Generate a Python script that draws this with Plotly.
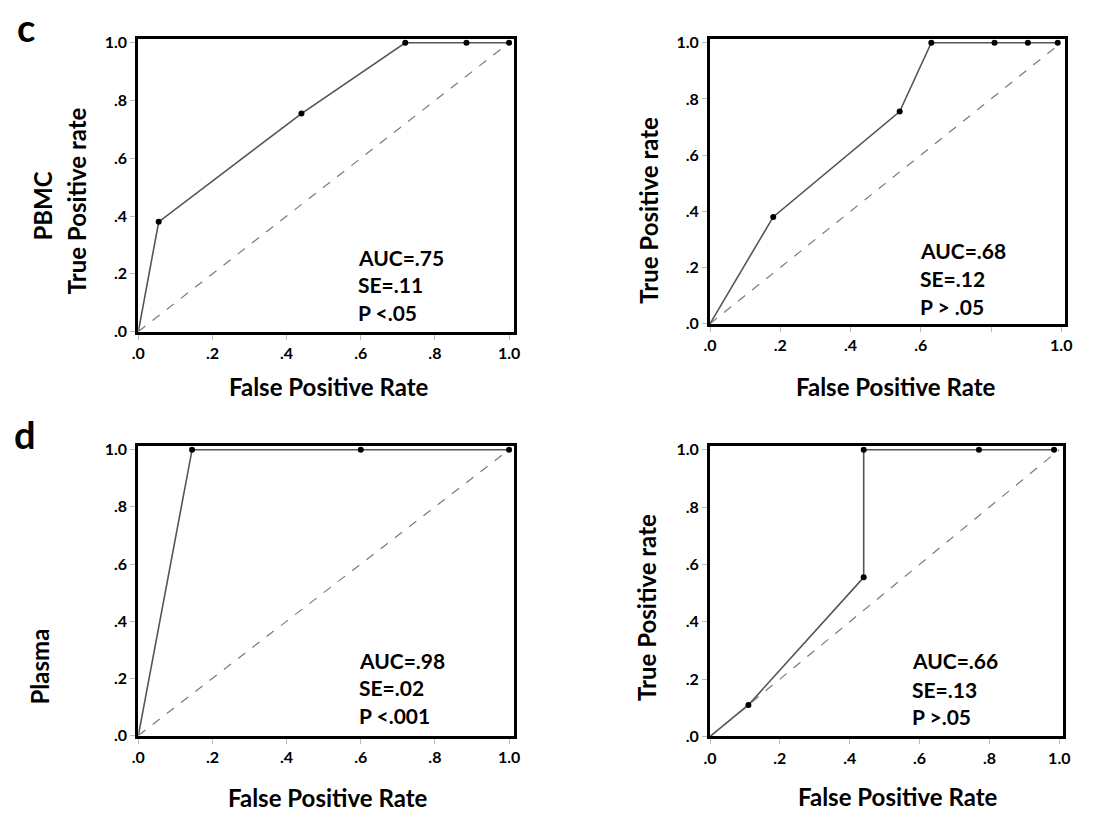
import plotly.graph_objects as go

W, H = 1109, 820

# ---------------- data ----------------
# Panel c-left (PBMC)
c1_fpr = [0.0, 0.055, 0.44, 0.72, 0.885, 1.0]
c1_tpr = [0.0, 0.38, 0.755, 1.0, 1.0, 1.0]
# Panel c-right (PBMC)
c2_fpr = [0.0, 0.18, 0.54, 0.63, 0.81, 0.905, 0.99]
c2_tpr = [0.0, 0.38, 0.755, 1.0, 1.0, 1.0, 1.0]
# Panel d-left (Plasma)
d1_fpr = [0.0, 0.145, 0.6, 1.0]
d1_tpr = [0.0, 1.0, 1.0, 1.0]
# Panel d-right (Plasma)
d2_fpr = [0.0, 0.11, 0.44, 0.44, 0.77, 0.985]
d2_tpr = [0.0, 0.11, 0.555, 1.0, 1.0, 1.0]

ref_line = [0.0, 1.0]

tick_vals = [0.0, 0.2, 0.4, 0.6, 0.8, 1.0]
tick_text = [".0", ".2", ".4", ".6", ".8", "1.0"]
tick_text_c2x = [".0", ".2", ".4", ".6", "", "1.0"]

stats = {
    1: ["AUC=.75", "SE=.11", "P <.05"],
    2: ["AUC=.68", "SE=.12", "P > .05"],
    3: ["AUC=.98", "SE=.02", "P <.001"],
    4: ["AUC=.66", "SE=.13", "P >.05"],
}

panels = [
    (1, c1_fpr, c1_tpr),
    (2, c2_fpr, c2_tpr),
    (3, d1_fpr, d1_tpr),
    (4, d2_fpr, d2_tpr),
]

# ---------------- layout geometry (pixels) ----------------
def px(x):
    return x / W

def py(y):
    return 1 - y / H

# (left, right, top, bottom) in pixels
boxes = {
    1: (133, 513, 33, 331),
    2: (712, 1072, 33, 323),
    3: (133, 513, 448, 743),
    4: (712, 1070, 448, 744),
}

FONT = "Lato"
fig = go.Figure()

for idx, fx, fy in panels:
    xa = "x" if idx == 1 else f"x{idx}"
    ya = "y" if idx == 1 else f"y{idx}"
    # diagonal reference
    fig.add_trace(go.Scatter(
        x=ref_line, y=ref_line, mode="lines", xaxis=xa, yaxis=ya,
        line=dict(color="#7a7a7a", width=1.2, dash="dash"),
        showlegend=False, hoverinfo="skip"))
    # ROC curve
    fig.add_trace(go.Scatter(
        x=fx, y=fy, mode="lines", xaxis=xa, yaxis=ya,
        line=dict(color="#555555", width=1.6),
        showlegend=False))
    fig.add_trace(go.Scatter(
        x=fx[1:], y=fy[1:], mode="markers", xaxis=xa, yaxis=ya,
        marker=dict(color="black", size=6),
        showlegend=False))

axis_common = dict(
    showline=True, mirror=True, linecolor="black", linewidth=3,
    showgrid=False, zeroline=False, ticks="outside", ticklen=5,
    tickcolor="#bbbbbb", tickwidth=1,
    tickfont=dict(family=FONT, size=16, color="black", weight="bold"),
    tickvals=tick_vals, fixedrange=True,
)

layout_axes = {}
for idx in range(1, 5):
    l, r, t, b = boxes[idx]
    xname = "xaxis" if idx == 1 else f"xaxis{idx}"
    yname = "yaxis" if idx == 1 else f"yaxis{idx}"
    xt = tick_text_c2x if idx == 2 else tick_text
    layout_axes[xname] = dict(axis_common, domain=[px(l), px(r)],
                              range=[0, 1.012], ticktext=xt,
                              anchor="y" if idx == 1 else f"y{idx}")
    layout_axes[yname] = dict(axis_common, domain=[py(b), py(t)],
                              range=[0, 1.012], ticktext=tick_text,
                              anchor="x" if idx == 1 else f"x{idx}")

fig.update_layout(**layout_axes)

annotations = []

def ann(text, x, y, size, xanchor="center", angle=0):
    annotations.append(dict(
        text=text, x=px(x), y=py(y), xref="paper", yref="paper",
        showarrow=False, xanchor=xanchor, yanchor="middle", textangle=angle,
        font=dict(family=FONT, size=size, color="black", weight="bold")))

# panel letters
ann("c", 19, 20, 38)
ann("d", 18, 436, 38)

# x axis titles
ann("False Positive Rate", 326, 387, 24)
ann("False Positive Rate", 900, 387, 24)
ann("False Positive Rate", 325, 806, 24)
ann("False Positive Rate", 902, 805, 24)

# y axis titles
ann("PBMC", 35, 203, 24, angle=-90)
ann("True Positive rate", 70, 198, 24, angle=-90)
ann("True Positive rate", 650, 207, 24, angle=-90)
ann("Plasma", 33, 673, 24, angle=-90)
ann("True Positive rate", 647, 612, 24, angle=-90)

# stats text
stat_pos = {
    1: (353, [255, 283, 312]),
    2: (923, [248, 277, 305]),
    3: (354, [666, 694, 723]),
    4: (915, [667, 696, 724]),
}
for idx, (x0, ys) in stat_pos.items():
    for line, yy in zip(stats[idx], ys):
        ann(line, x0, yy, 21, xanchor="left")

fig.update_layout(
    width=W, height=H,
    margin=dict(l=0, r=0, t=0, b=0),
    paper_bgcolor="white", plot_bgcolor="white",
    annotations=annotations,
    showlegend=False,
)

fig.write_html("out.html", config={"displayModeBar": False})
